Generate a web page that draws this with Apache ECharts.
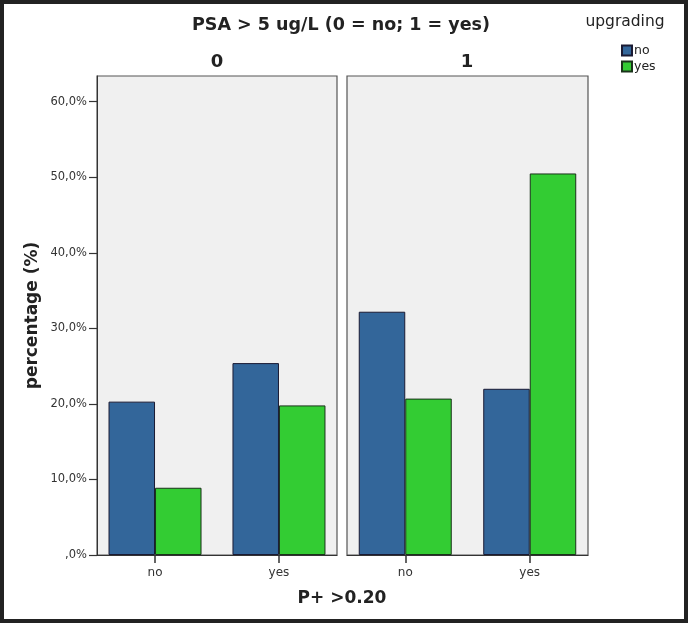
<!DOCTYPE html>
<html>
<head>
<meta charset="utf-8">
<script src="https://cdn.jsdelivr.net/npm/echarts@6/dist/echarts.min.js"></script>
<style>html,body{margin:0;padding:0;background:#fff;}#c{width:688px;height:624px;}</style>
</head>
<body>
<div id="c"></div>
<script>
// ---- data ----
const panelLabels = ['0', '1'];                 // PSA > 5 ug/L
const categories = ['no', 'yes'];               // P+ >0.20
const legendNames = ['no', 'yes'];              // upgrading
const psa0_upgradingNo  = [20.3, 25.4];
const psa0_upgradingYes = [8.9, 19.8];
const psa1_upgradingNo  = [32.2, 22.0];
const psa1_upgradingYes = [20.7, 50.5];
const yTicks = [0, 10, 20, 30, 40, 50, 60];

const chart = echarts.init(document.getElementById('c'), null, {renderer: 'canvas'});
const FONT = 'DejaVu Sans';
const BLUE = '#33669a', GREEN = '#33cc33';

function pts(arr) { return arr.map((v, i) => [i, v]); }
function yFmt(v) { return v === 0 ? ',0%' : v.toFixed(1).replace('.', ',') + '%'; }

const xMin = -0.468, xMax = 1.468, yMax = 63.4;

function xAxis(gi) {
  return {
    type: 'value', gridIndex: gi, min: xMin, max: xMax,
    splitLine: {show: false},
    axisLine: {show: true, onZero: false, lineStyle: {color: '#333', width: 1}},
    axisTick: {show: true, customValues: [0, 1], length: 8, lineStyle: {color: '#333', width: 1.5}},
    axisLabel: {customValues: [0, 1], formatter: v => categories[Math.round(v)], fontFamily: FONT, fontSize: 12, color: '#333', margin: 12}
  };
}

const option = {
  backgroundColor: '#fff',
  animation: false,
  grid: [
    {left: 97, top: 76, width: 240, height: 479, show: true, backgroundColor: '#f0f0f0', borderColor: '#555', borderWidth: 1.2},
    {left: 347, top: 76, width: 241, height: 479, show: true, backgroundColor: '#f0f0f0', borderColor: '#555', borderWidth: 1.2}
  ],
  xAxis: [xAxis(0), xAxis(1)],
  yAxis: [
    {type: 'value', gridIndex: 0, min: 0, max: yMax,
     name: 'percentage (%)', nameLocation: 'middle', nameGap: 56,
     nameTextStyle: {fontFamily: FONT, fontWeight: 'bold', fontSize: 17, color: '#222'},
     splitLine: {show: false},
     axisLine: {show: true, onZero: false, lineStyle: {color: '#333'}},
     axisTick: {show: true, customValues: yTicks, length: 8, lineStyle: {color: '#333', width: 1.2}},
     axisLabel: {customValues: yTicks, formatter: yFmt, fontFamily: FONT, fontSize: 11.5, color: '#333', margin: 10}},
    {type: 'value', gridIndex: 1, min: 0, max: yMax, show: false, splitLine: {show: false},
     axisLine: {onZero: false}}
  ],
  legend: {
    orient: 'vertical', left: 616, top: 39, itemWidth: 10, itemHeight: 10, itemGap: 3,
    icon: 'rect', data: legendNames,
    textStyle: {fontFamily: FONT, fontSize: 12.5, color: '#222', padding: [0, 0, 0, -3]}
  },
  graphic: [
    {type: 'text', x: 341, y: 25, style: {text: 'PSA > 5 ug/L (0 = no; 1 = yes)', font: 'bold 17.5px "DejaVu Sans"', fill: '#222', align: 'center', verticalAlign: 'middle'}},
    {type: 'text', x: 217, y: 62, style: {text: panelLabels[0], font: 'bold 18px "DejaVu Sans"', fill: '#222', align: 'center', verticalAlign: 'middle'}},
    {type: 'text', x: 467, y: 62, style: {text: panelLabels[1], font: 'bold 18px "DejaVu Sans"', fill: '#222', align: 'center', verticalAlign: 'middle'}},
    {type: 'text', x: 342, y: 599, style: {text: 'P+ >0.20', font: 'bold 17px "DejaVu Sans"', fill: '#222', align: 'center', verticalAlign: 'middle'}},
    {type: 'text', x: 625, y: 22, style: {text: 'upgrading', font: '15.5px "DejaVu Sans"', fill: '#222', align: 'center', verticalAlign: 'middle'}},
    {type: 'rect', shape: {x: 2, y: 2, width: 684, height: 619}, style: {fill: 'none', stroke: '#222', lineWidth: 4}, z: 100}
  ],
  series: [
    {name: 'no', type: 'bar', xAxisIndex: 0, yAxisIndex: 0, data: pts(psa0_upgradingNo), barWidth: 46.5, barGap: '0%',
     itemStyle: {color: BLUE, borderColor: '#1a1a33', borderWidth: 1}},
    {name: 'yes', type: 'bar', xAxisIndex: 0, yAxisIndex: 0, data: pts(psa0_upgradingYes), barWidth: 46.5, barGap: '0%',
     itemStyle: {color: GREEN, borderColor: '#1a331a', borderWidth: 1}},
    {name: 'no', type: 'bar', xAxisIndex: 1, yAxisIndex: 1, data: pts(psa1_upgradingNo), barWidth: 46.5, barGap: '0%',
     itemStyle: {color: BLUE, borderColor: '#1a1a33', borderWidth: 1}},
    {name: 'yes', type: 'bar', xAxisIndex: 1, yAxisIndex: 1, data: pts(psa1_upgradingYes), barWidth: 46.5, barGap: '0%',
     itemStyle: {color: GREEN, borderColor: '#1a331a', borderWidth: 1}}
  ]
};
chart.setOption(option);
</script>
</body>
</html>
